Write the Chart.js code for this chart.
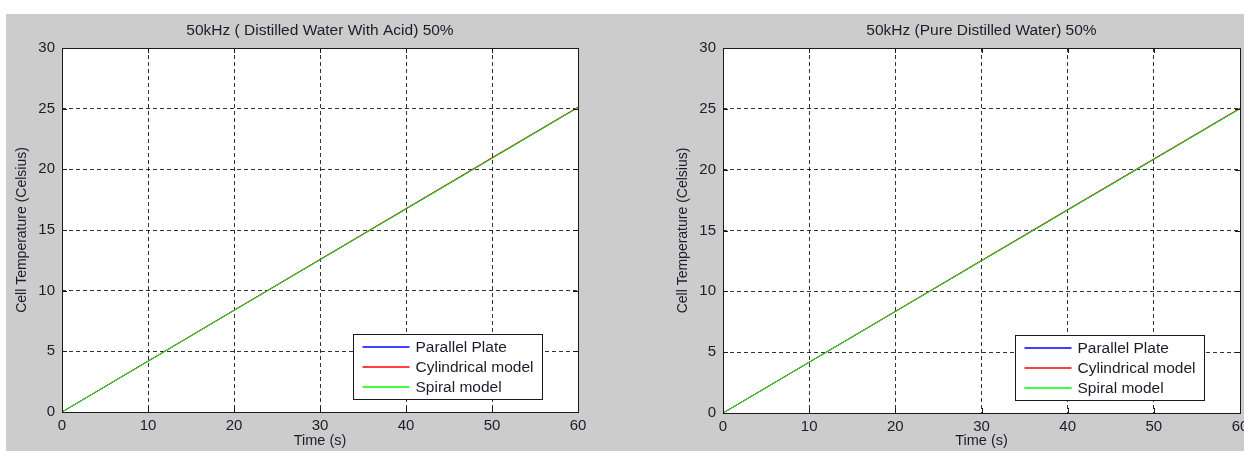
<!DOCTYPE html>
<html><head><meta charset="utf-8">
<script src="https://cdn.jsdelivr.net/npm/chart.js@4.4.1/dist/chart.umd.min.js"></script>
<style>
html,body{margin:0;padding:0;background:#fff;width:1244px;height:451px;overflow:hidden;position:relative}
#bg{position:absolute;left:6px;top:14px;width:1238px;height:437px;background:#cccccc}
#c1{position:absolute;left:6px;top:14px}
#c2{position:absolute;left:667px;top:14px}
</style></head><body>
<div id="bg"></div>
<canvas id="c1" width="634" height="437"></canvas>
<canvas id="c2" width="600" height="437"></canvas>
<script>
// ---- data ----
const titles = ['50kHz ( Distilled Water With Acid) 50%', '50kHz (Pure Distilled Water) 50%'];
const xLabel = 'Time (s)';
const yLabel = 'Cell Temperature (Celsius)';
const seriesNames = ['Parallel Plate', 'Cylindrical model', 'Spiral model'];
const seriesColors = ['#0000ff', '#ff0000', '#00ff00'];
const time = [0, 5, 10, 15, 20, 25, 30, 35, 40, 45, 50, 55, 60];
const acidParallel    = [0, 2.09, 4.18, 6.27, 8.37, 10.46, 12.55, 14.64, 16.73, 18.82, 20.92, 23.01, 25.10];
const acidCylindrical = [0, 2.10, 4.20, 6.29, 8.39, 10.48, 12.58, 14.67, 16.77, 18.86, 20.96, 23.04, 25.13];
const acidSpiral      = [0, 2.09, 4.18, 6.27, 8.36, 10.45, 12.54, 14.63, 16.72, 18.81, 20.90, 22.99, 25.08];
const pureParallel    = [0, 2.08, 4.17, 6.25, 8.34, 10.42, 12.51, 14.59, 16.68, 18.76, 20.85, 22.93, 25.02];
const pureCylindrical = [0, 2.09, 4.18, 6.27, 8.36, 10.45, 12.54, 14.63, 16.72, 18.80, 20.89, 22.97, 25.05];
const pureSpiral      = [0, 2.08, 4.17, 6.25, 8.33, 10.42, 12.50, 14.58, 16.67, 18.75, 20.84, 22.92, 25.00];
const xTicksMax = 60, yTicksMax = 30;

const FONT = 'Liberation Sans, Arial, sans-serif';
const TXT = '#1c1c2a';

const matlabPlugin = {
  id: 'matlab',
  beforeDraw(chart) {
    const {ctx, chartArea: a} = chart;
    ctx.save();
    ctx.fillStyle = '#ffffff';
    ctx.fillRect(a.left, a.top, a.right - a.left, a.bottom - a.top);
    ctx.restore();
  },
  afterDraw(chart, args, opts) {
    const {ctx, chartArea: a} = chart;
    const xs = chart.scales.x, ys = chart.scales.y;
    ctx.save();
    // box
    ctx.strokeStyle = '#1a1a1a';
    ctx.lineWidth = 1;
    ctx.strokeRect(Math.round(a.left) + 0.5, Math.round(a.top) + 0.5, Math.round(a.right - a.left), Math.round(a.bottom - a.top));
    // inward ticks
    ctx.beginPath();
    xs.ticks.forEach(t => {
      const px = Math.round(xs.getPixelForValue(t.value)) + 0.5;
      ctx.moveTo(px, a.bottom); ctx.lineTo(px, a.bottom - 5);
      ctx.moveTo(px, a.top); ctx.lineTo(px, a.top + 5);
    });
    ys.ticks.forEach(t => {
      const py = Math.round(ys.getPixelForValue(t.value)) + 0.5;
      ctx.moveTo(a.left, py); ctx.lineTo(a.left + 5, py);
      ctx.moveTo(a.right, py); ctx.lineTo(a.right - 5, py);
    });
    ctx.stroke();
    // title
    ctx.fillStyle = TXT;
    ctx.font = '15.5px ' + FONT;
    ctx.textAlign = 'center';
    ctx.textBaseline = 'middle';
    ctx.fillText(opts.title, (a.left + a.right) / 2, 17);
    // legend
    ctx.font = '15.5px ' + FONT;
    const ds = chart.data.datasets;
    let maxW = 0;
    ds.forEach(d => { maxW = Math.max(maxW, ctx.measureText(d.label).width); });
    const w = Math.round(62 + maxW + 9), h = 65;
    const x0 = Math.round(a.right - 36 - w) + 0.5, y0 = Math.round(a.bottom - 13 - h) + 0.5;
    ctx.fillStyle = '#ffffff';
    ctx.fillRect(x0, y0, w, h);
    ctx.strokeStyle = '#1a1a1a';
    ctx.lineWidth = 1;
    ctx.strokeRect(x0, y0, w, h);
    ctx.textAlign = 'left';
    ds.forEach((d, i) => {
      const yy = Math.round(y0 + 12 + i * 20);
      ctx.strokeStyle = seriesColors[i];
      ctx.lineWidth = 1.5;
      ctx.beginPath(); ctx.moveTo(x0 + 9, yy); ctx.lineTo(x0 + 56, yy); ctx.stroke();
      ctx.fillStyle = TXT;
      ctx.fillText(d.label, x0 + 62, yy + 1);
    });
    ctx.restore();
  }
};

function makeChart(id, title, series, padRight, xAxisH) {
  const datasets = series.map((vals, i) => ({
    label: seriesNames[i],
    data: time.map((t, k) => ({x: t, y: vals[k]})),
    borderColor: seriesColors[i],
    backgroundColor: seriesColors[i],
    borderWidth: 1,
    pointRadius: 0,
    tension: 0,
    order: 2 - i
  }));
  return new Chart(document.getElementById(id), {
    type: 'line',
    data: {datasets},
    plugins: [matlabPlugin],
    options: {
      responsive: false,
      animation: false,
      devicePixelRatio: 1,
      layout: {padding: {left: 0, right: padRight, top: 34, bottom: 0}},
      plugins: {
        legend: {display: false},
        tooltip: {enabled: false},
        title: {display: false},
        matlab: {title}
      },
      scales: {
        x: {
          type: 'linear', min: 0, max: xTicksMax,
          ticks: {stepSize: 10, color: TXT, font: {family: FONT, size: 15}, padding: 5, maxRotation: 0},
          grid: {color: 'rgba(0,0,0,0.8)', lineWidth: 1, drawTicks: false},
          border: {display: false, dash: [4, 3]},
          title: {display: true, text: xLabel, color: TXT, font: {family: FONT, size: 14.5}, padding: {top: 0, bottom: 1}},
          afterFit: s => { s.height = xAxisH; }
        },
        y: {
          type: 'linear', min: 0, max: yTicksMax,
          ticks: {stepSize: 5, color: TXT, font: {family: FONT, size: 15}, padding: 7},
          grid: {color: 'rgba(0,0,0,0.8)', lineWidth: 1, drawTicks: false},
          border: {display: false, dash: [4, 3]},
          title: {display: true, text: yLabel, color: TXT, font: {family: FONT, size: 14}, padding: {top: 8, bottom: 0}},
          afterFit: s => { s.width = 56; }
        }
      }
    }
  });
}

makeChart('c1', titles[0], [acidParallel, acidCylindrical, acidSpiral], 62, 39);
makeChart('c2', titles[1], [pureParallel, pureCylindrical, pureSpiral], 27, 38);
</script>
</body></html>
